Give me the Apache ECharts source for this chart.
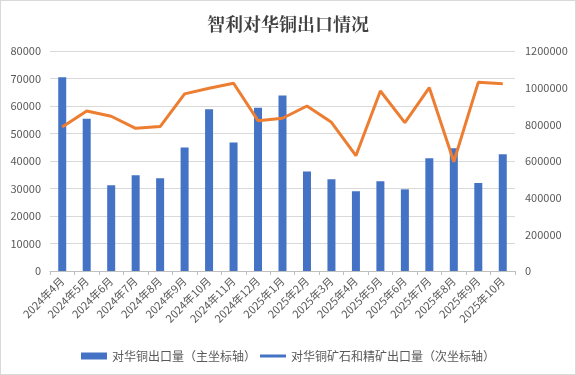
<!DOCTYPE html>
<html>
<head>
<meta charset="utf-8">
<script src="https://cdn.jsdelivr.net/npm/echarts@6/dist/echarts.min.js"></script>
<style>
html, body { margin: 0; padding: 0; background: #fff; }
#chart { width: 574px; height: 373px; border: 1px solid #d9d9d9; }
</style>
</head>
<body>
<div id="chart"></div>
<script>
// 月份
const months = ['2024年4月', '2024年5月', '2024年6月', '2024年7月', '2024年8月', '2024年9月', '2024年10月', '2024年11月', '2024年12月',
    '2025年1月', '2025年2月', '2025年3月', '2025年4月', '2025年5月', '2025年6月', '2025年7月', '2025年8月', '2025年9月', '2025年10月']
// 对华铜出口量（主坐标轴）
const copperExport = [70500, 55400, 31200, 34800, 33700, 44900, 58800, 46700, 59400,
    63800, 36200, 33400, 29000, 32600, 29700, 41000, 44600, 32000, 42500]
// 对华铜矿石和精矿出口量（次坐标轴）
const oreExport = [785000, 873000, 844000, 778000, 788000, 966000, 997000, 1024000, 820000,
    833000, 900000, 811000, 629000, 982000, 809000, 1000000, 596000, 1029000, 1022000]
const barName = '对华铜出口量（主坐标轴）'
const lineName = '对华铜矿石和精矿出口量（次坐标轴）'

const chart = echarts.init(document.getElementById('chart'), null, {renderer: 'canvas'})
const font = '"Microsoft YaHei", "Noto Sans CJK SC", sans-serif'
const labelColor = '#595959'
const option = {
    animation: false,
    color: ['#4472c4', '#ed7d31'],
    title: {
        text: '智利对华铜出口情况',
        left: 'center',
        top: 9,
        textStyle: { color: '#404040', fontSize: 18, fontWeight: 'bold', fontFamily: '"Noto Serif CJK SC", "Noto Sans CJK SC", serif' }
    },
    grid: { left: 49, right: 60, top: 50, bottom: 103 },
    legend: {
        bottom: 7,
        left: 'center',
        itemGap: 4,
        symbolKeepAspect: true,
        textStyle: { color: labelColor, fontSize: 12, fontFamily: font },
        data: [
            { name: barName, icon: 'rect' },
            { name: lineName, icon: 'path://M0,0 L26,0 L26,3 L0,3 Z' }
        ],
        itemWidth: 26,
        itemHeight: 7
    },
    xAxis: {
        type: 'category',
        data: months,
        axisLine: { lineStyle: { color: '#bfbfbf' } },
        axisTick: { show: true, length: 4, lineStyle: { color: '#bfbfbf' } },
        axisLabel: { color: labelColor, fontSize: 11, rotate: 45, margin: 8, interval: 0, fontFamily: font }
    },
    yAxis: [{
        type: 'value',
        min: 0, max: 80000, interval: 10000,
        axisLine: { show: false },
        axisTick: { show: false },
        splitLine: { lineStyle: { color: '#d9d9d9' } },
        axisLabel: { color: labelColor, fontSize: 11, margin: 9, fontFamily: font, formatter: v => String(v) }
    }, {
        type: 'value',
        min: 0, max: 1200000, interval: 200000,
        axisLine: { show: false },
        axisTick: { show: false },
        splitLine: { show: false },
        axisLabel: { color: labelColor, fontSize: 11, margin: 10, fontFamily: font, formatter: v => String(v) }
    }],
    series: [{
        name: barName,
        type: 'bar',
        data: copperExport,
        barWidth: 8,
        itemStyle: { color: '#4472c4' }
    }, {
        name: lineName,
        type: 'line',
        yAxisIndex: 1,
        data: oreExport,
        symbol: 'none',
        lineStyle: { width: 3, color: '#ed7d31' }
    }]
}
chart.setOption(option)
</script>
</body>
</html>
